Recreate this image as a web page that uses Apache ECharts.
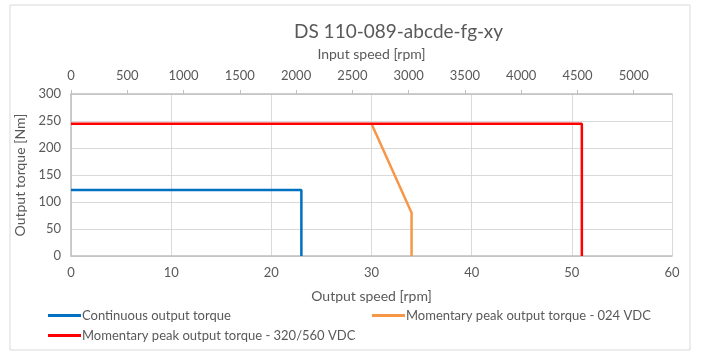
<!DOCTYPE html>
<html>
<head>
<meta charset="utf-8">
<script src="https://cdn.jsdelivr.net/npm/echarts@6/dist/echarts.min.js"></script>
<style>
html, body { margin: 0; padding: 0; background: #fff; }
#chart { width: 701px; height: 356px; }
</style>
</head>
<body>
<div id="chart"></div>
<script>
// output speed [rpm] vs output torque [Nm]
const continuousSpeed = [0, 23, 23]
const continuousTorque = [122, 122, 0]
const peak024Speed = [30, 34, 34]
const peak024Torque = [245, 80, 0]
const peak320Speed = [0, 51, 51]
const peak320Torque = [245, 245, 0]

const seriesNames = [
    'Continuous output torque',
    'Momentary peak output torque - 024 VDC',
    'Momentary peak output torque - 320/560 VDC'
]
const gearRatio = 89 // input / output

function pairs (xs, ys) {
    let out = []
    for (var i = 0; i < xs.length; i++) {
        out.push([xs[i], ys[i]])
    }
    return out
}

const font = 'Lato, "Open Sans", sans-serif'
const grey = '#595959'

let myChart = echarts.init(document.getElementById('chart'))

const legendBase = {
    icon: 'rect',
    itemWidth: 33,
    itemHeight: 3,
    padding: 0,
    textStyle: { color: grey, fontFamily: font, fontSize: 13, padding: [0, 0, 0, -4] }
}

myChart.setOption({
    animation: false,
    backgroundColor: '#fff',
    title: {
        text: 'DS 110-089-abcde-fg-xy',
        left: 294,
        top: 22,
        padding: 0,
        textStyle: { color: grey, fontFamily: font, fontSize: 19, fontWeight: 'normal' }
    },
    graphic: [{
        type: 'rect',
        shape: { x: 10, y: 5, width: 680, height: 345 },
        style: { fill: 'none', stroke: '#d9d9d9', lineWidth: 1 },
        silent: true
    }],
    legend: [
        Object.assign({ data: [seriesNames[0]], left: 48, top: 309 }, legendBase),
        Object.assign({ data: [seriesNames[1]], left: 372, top: 309 }, legendBase),
        Object.assign({ data: [seriesNames[2]], left: 48, top: 329 }, legendBase)
    ],
    grid: { left: 71, right: 29, top: 94, bottom: 100 },
    xAxis: [{
        type: 'value',
        position: 'bottom',
        min: 0, max: 60, interval: 10,
        name: 'Output speed [rpm]',
        nameLocation: 'middle',
        nameGap: 33,
        nameTextStyle: { color: grey, fontFamily: font, fontSize: 14 },
        axisLine: { show: true, lineStyle: { color: '#bfbfbf', width: 1.5 } },
        axisTick: { show: false },
        axisLabel: { color: grey, fontFamily: font, fontSize: 13, margin: 10 },
        splitLine: { show: true, lineStyle: { color: '#d9d9d9' } }
    }, {
        type: 'value',
        position: 'top',
        min: 0, max: 60 * gearRatio, interval: 500,
        name: 'Input speed [rpm]',
        nameLocation: 'middle',
        nameGap: 33,
        nameTextStyle: { color: grey, fontFamily: font, fontSize: 14 },
        axisLine: { show: true, onZero: false, lineStyle: { color: '#bfbfbf', width: 1.5 } },
        axisTick: { show: true, inside: false, length: 4, lineStyle: { color: '#bfbfbf' } },
        axisLabel: {
            color: grey, fontFamily: font, fontSize: 13, margin: 12, showMaxLabel: false,
            formatter: function (v) { return String(v) }
        },
        splitLine: { show: false }
    }],
    yAxis: {
        type: 'value',
        min: 0, max: 300, interval: 50,
        name: 'Output torque [Nm]',
        nameLocation: 'middle',
        nameGap: 33,
        nameTextStyle: { color: grey, fontFamily: font, fontSize: 14 },
        axisLine: { show: true, lineStyle: { color: '#bfbfbf', width: 1.5 } },
        axisTick: { show: false },
        axisLabel: { color: grey, fontFamily: font, fontSize: 13, margin: 10 },
        splitLine: { show: true, lineStyle: { color: '#d9d9d9' } }
    },
    series: [{
        name: seriesNames[0],
        type: 'line',
        xAxisIndex: 0,
        data: pairs(continuousSpeed, continuousTorque),
        showSymbol: false,
        color: '#0070c0',
        lineStyle: { width: 2.5 }
    }, {
        name: seriesNames[1],
        type: 'line',
        xAxisIndex: 0,
        data: pairs(peak024Speed, peak024Torque),
        showSymbol: false,
        color: '#f79646',
        lineStyle: { width: 2.5 }
    }, {
        name: seriesNames[2],
        type: 'line',
        xAxisIndex: 0,
        data: pairs(peak320Speed, peak320Torque),
        showSymbol: false,
        color: '#ff0000',
        lineStyle: { width: 2.5 }
    }]
})
</script>
</body>
</html>
